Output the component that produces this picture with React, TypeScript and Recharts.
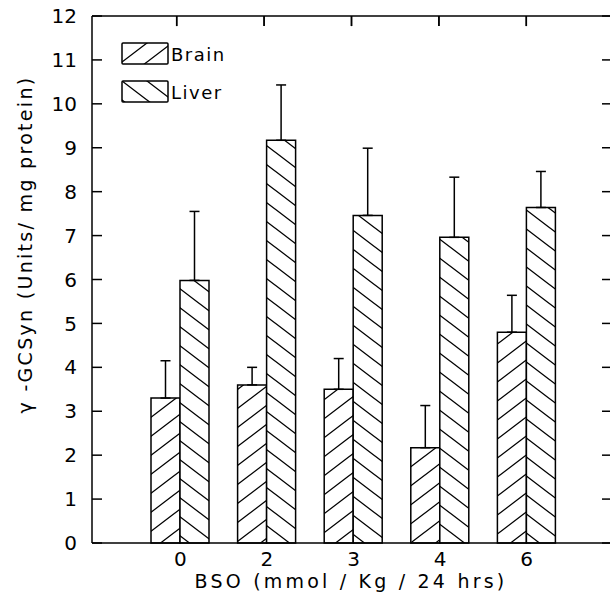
import { ComposedChart, Bar, Line, XAxis, YAxis, ErrorBar, Legend, ReferenceLine } from 'recharts';

const doses = ['0', '2', '3', '4', '6'];
const brain = [3.3, 3.6, 3.5, 2.17, 4.8];
const brainErr = [0.85, 0.4, 0.7, 0.96, 0.84];
const liver = [5.98, 9.17, 7.46, 6.96, 7.64];
const liverErr = [1.57, 1.26, 1.53, 1.37, 0.82];
const yTicks = [0, 1, 2, 3, 4, 5, 6, 7, 8, 9, 10, 11, 12];

const data = doses.map((dose, i) => ({
  dose,
  brain: brain[i],
  liver: liver[i],
  brainErr: [0, brainErr[i]],
  liverErr: [0, liverErr[i]],
}));

const FONT = '"DejaVu Sans", sans-serif';

function HatchDefs() {
  return (
    <svg width={0} height={0} style={{ position: 'absolute' }}>
      <defs>
        <pattern id="hatchBrain" patternUnits="userSpaceOnUse" width={25} height={19}>
          <rect width={25} height={19} fill="#fff" />
          <path d="M0,19 L25,0 M-5,3.8 L5,-3.8 M20,22.8 L30,15.2" stroke="#000" strokeWidth={1.3} />
        </pattern>
        <pattern id="hatchLiver" patternUnits="userSpaceOnUse" width={25} height={19}>
          <rect width={25} height={19} fill="#fff" />
          <path d="M0,0 L25,19 M-5,15.2 L5,22.8 M20,-3.8 L30,3.8" stroke="#000" strokeWidth={1.3} />
        </pattern>
      </defs>
    </svg>
  );
}

// tick marks only, no label text
const NoLabel = () => <g />;

function HatchLegend({ payload }: any) {
  const items = (payload || []).filter((p: any) => p.type !== 'none');
  return (
    <svg width={130} height={66}>
      {items.map((entry: any, i: number) => (
        <g key={entry.value} transform={`translate(1, ${1 + i * 38})`}>
          <rect width={46} height={21} fill={entry.color} stroke="#000" strokeWidth={1.5} rx={1} />
          <text x={49} y={17.5} fontSize={18} fill="#000" style={{ fontFamily: FONT, letterSpacing: 1.5 }}>
            {entry.value}
          </text>
        </g>
      ))}
    </svg>
  );
}

function YLabel({ viewBox }: any) {
  const vb = viewBox || { x: 0, y: 17, width: 92, height: 526 };
  const cx = vb.x + 25;
  const cy = vb.y + vb.height / 2 - 35;
  return (
    <text
      x={cx}
      y={cy}
      transform={`rotate(-90, ${cx}, ${cy})`}
      textAnchor="middle"
      dominantBaseline="central"
      fontSize={19}
      fill="#000"
      style={{ fontFamily: FONT, letterSpacing: 2.3 }}
    >
      γ -GCSyn (Units/ mg protein)
    </text>
  );
}

export default function App() {
  const axisStroke = { stroke: '#000', strokeWidth: 1.5 };
  return (
    <div style={{ position: 'absolute', left: 0, top: 0, fontFamily: FONT, background: '#fff' }}>
      <HatchDefs />
      <ComposedChart
        width={611}
        height={601}
        data={data}
        margin={{ top: 16, right: 0, bottom: 0, left: 0 }}
        barSize={29}
        barGap={0}
      >
        <XAxis
          dataKey="dose"
          padding={{ left: 45, right: 40 }}
          interval={0}
          tickLine={false}
          axisLine={axisStroke}
          tick={{ fontSize: 20, fill: '#000' }}
          tickSize={6}
          tickMargin={3}
          height={58}
          label={{
            value: 'BSO (mmol / Kg / 24 hrs)',
            position: 'insideBottom',
            offset: 13,
            fill: '#000',
            fontSize: 19,
            style: { letterSpacing: 3.2 },
          }}
        />
        <XAxis
          xAxisId="top"
          orientation="top"
          dataKey="dose"
          padding={{ left: 41, right: 40 }}
          interval={0}
          height={1}
          mirror
          tick={NoLabel}
          tickSize={10}
          tickLine={axisStroke}
          axisLine={axisStroke}
        />
        <YAxis
          domain={[0, 12]}
          ticks={yTicks}
          interval={0}
          width={92}
          tick={{ fontSize: 20, fill: '#000' }}
          tickSize={-10}
          tickMargin={25}
          tickLine={axisStroke}
          axisLine={axisStroke}
          label={YLabel}
        />
        <YAxis
          yAxisId="right"
          orientation="right"
          domain={[0, 12]}
          ticks={yTicks}
          interval={0}
          width={1}
          tick={NoLabel}
          tickSize={-8}
          tickLine={axisStroke}
          axisLine={false}
        />
        <Legend
          layout="vertical"
          align="center"
          verticalAlign="middle"
          content={HatchLegend}
          wrapperStyle={{ top: 42, left: 121, width: 130, height: 66 }}
        />
        <Bar dataKey="brain" name="Brain" fill="url(#hatchBrain)" stroke="#000" strokeWidth={1.5} isAnimationActive={false}>
          <ErrorBar dataKey="brainErr" direction="y" width={5} stroke="#000" strokeWidth={1.5} />
        </Bar>
        <Bar dataKey="liver" name="Liver" fill="url(#hatchLiver)" stroke="#000" strokeWidth={1.5} isAnimationActive={false}>
          <ErrorBar dataKey="liverErr" direction="y" width={5} stroke="#000" strokeWidth={1.5} />
        </Bar>
        {/* invisible series so the frame axes (top / right) get their ticks */}
        <Line
          xAxisId="top"
          yAxisId="right"
          dataKey="liver"
          stroke="none"
          dot={false}
          activeDot={false}
          legendType="none"
          isAnimationActive={false}
        />
        {/* short inward marks on the top frame at each dose */}
        {doses.map((d) => (
          <ReferenceLine
            key={`top-${d}`}
            xAxisId="top"
            yAxisId="right"
            segment={[{ x: d, y: 12 }, { x: d, y: 11.77 }]}
            stroke="#000"
            strokeWidth={1.5}
          />
        ))}
      </ComposedChart>
    </div>
  );
}
